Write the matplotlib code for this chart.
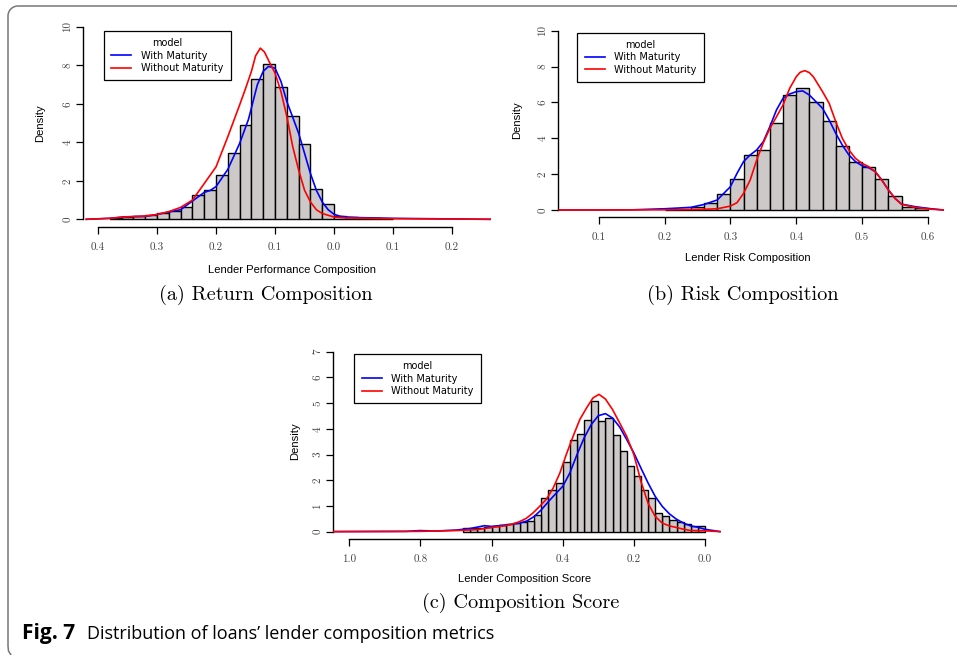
import numpy as np
import matplotlib
matplotlib.use("Agg")
import matplotlib.pyplot as plt
from matplotlib.lines import Line2D

W, H = 957, 655

###############################################################################
# data
###############################################################################
BIN_W = 0.02

# (a) Return composition
a_bin_start = -0.38
a_hist = [0.08, 0.10, 0.15, 0.24, 0.33, 0.42, 0.64, 1.25, 1.50, 2.28, 3.43, 4.92,
          7.32, 8.09, 6.89, 5.36, 3.90, 1.60, 0.80, 0.17, 0.12, 0.07, 0.05, 0.04]
a_with_x = [-0.42, -0.38, -0.355, -0.32, -0.30, -0.28, -0.26, -0.24, -0.22, -0.21, -0.20,
            -0.18, -0.16, -0.145, -0.13, -0.12, -0.111, -0.10, -0.09, -0.08, -0.07, -0.06,
            -0.05, -0.04, -0.03, -0.02, -0.01, 0.0, 0.01, 0.02, 0.04, 0.10, 0.265]
a_with_y = [0.0, 0.05, 0.13, 0.15, 0.25, 0.38, 0.50, 0.95, 1.40, 1.50, 1.70,
            2.60, 3.95, 5.20, 7.00, 7.70, 7.95, 7.86, 7.17, 6.12, 5.30, 4.47,
            3.43, 2.38, 1.51, 0.90, 0.50, 0.26, 0.16, 0.12, 0.09, 0.05, 0.0]
a_without_x = [-0.42, -0.38, -0.355, -0.32, -0.30, -0.28, -0.26, -0.24, -0.22, -0.20,
               -0.18, -0.16, -0.15, -0.14, -0.133, -0.125, -0.118, -0.11, -0.10, -0.09,
               -0.08, -0.07, -0.06, -0.05, -0.04, -0.03, -0.02, 0.0, 0.02, 0.10, 0.265]
a_without_y = [0.0, 0.05, 0.12, 0.17, 0.25, 0.40, 0.62, 1.00, 1.86, 2.73,
               4.30, 5.95, 6.80, 7.70, 8.50, 8.90, 8.70, 8.20, 7.60, 6.64,
               5.34, 3.77, 2.56, 1.51, 0.90, 0.50, 0.30, 0.12, 0.07, 0.03, 0.0]
a_ticks = [-0.4, -0.3, -0.2, -0.1, 0.0, 0.1, 0.2]
a_tick_labels = ["0.4", "0.3", "0.2", "0.1", "0.0", "0.1", "0.2"]

# (b) Risk composition
b_bin_start = 0.20
b_hist = [0.02, 0.06, 0.19, 0.37, 0.89, 1.75, 3.07, 3.35, 4.87, 6.43,
          6.78, 6.04, 4.94, 3.57, 2.66, 2.40, 1.71, 0.78, 0.19, 0.13]
b_with_x = [0.04, 0.15, 0.20, 0.24, 0.26, 0.28, 0.29, 0.30, 0.31, 0.32, 0.33, 0.34, 0.35,
            0.36, 0.37, 0.38, 0.39, 0.40, 0.41, 0.42, 0.43, 0.44, 0.45, 0.46, 0.47,
            0.48, 0.49, 0.50, 0.51, 0.52, 0.53, 0.54, 0.55, 0.56, 0.58, 0.60, 0.624]
b_with_y = [0.0, 0.01, 0.07, 0.15, 0.31, 0.56, 0.93, 1.30, 2.04, 2.70, 3.07, 3.35, 3.81,
            4.65, 5.58, 6.23, 6.47, 6.60, 6.64, 6.41, 6.04, 5.67, 5.02, 4.28, 3.62,
            3.07, 2.70, 2.47, 2.36, 2.14, 1.67, 1.12, 0.65, 0.33, 0.19, 0.09, 0.0]
b_without_x = [0.04, 0.20, 0.26, 0.28, 0.30, 0.31, 0.32, 0.33, 0.34, 0.35, 0.36, 0.37,
               0.38, 0.39, 0.40, 0.406, 0.413, 0.42, 0.426, 0.44, 0.45, 0.46, 0.47, 0.48,
               0.49, 0.50, 0.51, 0.52, 0.53, 0.54, 0.55, 0.56, 0.58, 0.60, 0.624]
b_without_y = [0.0, 0.01, 0.04, 0.07, 0.22, 0.41, 0.93, 1.67, 2.79, 3.75, 4.55, 5.20,
               5.86, 6.78, 7.43, 7.68, 7.77, 7.66, 7.43, 6.60, 5.95, 4.93, 4.00, 3.35,
               2.88, 2.60, 2.42, 2.14, 1.67, 1.12, 0.65, 0.32, 0.15, 0.06, 0.0]
b_ticks = [0.1, 0.2, 0.3, 0.4, 0.5, 0.6]
b_tick_labels = ["0.1", "0.2", "0.3", "0.4", "0.5", "0.6"]

# (c) Composition score (x axis runs from 1.0 down to 0.0)
c_bin_start = 0.0
c_hist = [0.22, 0.20, 0.28, 0.36, 0.45, 0.62, 0.74, 1.30, 1.60, 2.15, 2.56, 3.12,
          3.77, 4.42, 4.29, 5.07, 4.36, 3.81, 3.55, 2.70, 1.91, 1.60, 1.30, 0.65,
          0.42, 0.36, 0.33, 0.29, 0.24, 0.20, 0.16, 0.13, 0.13, 0.14]
c_with_x = [-0.042, 0.0, 0.02, 0.04, 0.06, 0.08, 0.10, 0.12, 0.14, 0.16, 0.18, 0.20,
            0.22, 0.24, 0.26, 0.28, 0.30, 0.32, 0.34, 0.36, 0.38, 0.40, 0.42, 0.44,
            0.46, 0.48, 0.50, 0.52, 0.54, 0.56, 0.60, 0.62, 0.66, 0.70, 0.76, 0.80,
            0.84, 0.90, 1.045]
c_with_y = [0.0, 0.09, 0.17, 0.22, 0.33, 0.48, 0.69, 0.98, 1.37, 1.89, 2.47, 3.06,
            3.58, 4.07, 4.42, 4.59, 4.51, 4.16, 3.64, 2.99, 2.28, 1.76, 1.47, 1.17,
            0.85, 0.59, 0.42, 0.33, 0.29, 0.26, 0.20, 0.23, 0.12, 0.06, 0.02, 0.04,
            0.01, 0.01, 0.0]
c_without_x = [-0.042, 0.0, 0.04, 0.06, 0.08, 0.10, 0.12, 0.14, 0.16, 0.18, 0.20, 0.22,
               0.24, 0.26, 0.28, 0.298, 0.315, 0.333, 0.352, 0.371, 0.39, 0.408, 0.427,
               0.446, 0.465, 0.484, 0.502, 0.521, 0.54, 0.56, 0.60, 0.64, 0.70, 0.80,
               0.90, 1.045]
c_without_y = [0.0, 0.03, 0.04, 0.09, 0.16, 0.22, 0.33, 0.59, 1.10, 1.95, 3.00, 3.70,
               4.23, 4.75, 5.16, 5.34, 5.20, 4.81, 4.36, 3.70, 3.00, 2.28, 1.69,
               1.26, 0.98, 0.72, 0.52, 0.39, 0.30, 0.23, 0.16, 0.08, 0.04, 0.01,
               0.0, 0.0]
c_ticks = [1.0, 0.8, 0.6, 0.4, 0.2, 0.0]
c_tick_labels = ["1.0", "0.8", "0.6", "0.4", "0.2", "0.0"]

###############################################################################
# style
###############################################################################
BAR_COLOR = "#cdc9c9"
BLUE = "#0000ff"
RED = "#ff0000"
TICK_FONT = "cmr10"
SANS = ["Liberation Sans", "DejaVu Sans"]


def fx(x):
    return x / W


def fy(y):
    return 1 - y / H


def make_axes(fig, left, right, top, bottom):
    return fig.add_axes([fx(left), fy(bottom), (right - left) / W, (bottom - top) / H])


def draw_panel(ax, bin_start, hist, wx, wy, ox, oy, xlim, ylim, xticks, xlabels,
               yticks, xbounds, ybounds):
    lefts = [round(bin_start + BIN_W * i, 4) for i in range(len(hist))]
    ax.bar(lefts, hist, width=BIN_W, align="edge", color=BAR_COLOR,
           edgecolor="black", linewidth=1.0, zorder=1)
    ax.plot(wx, wy, color=BLUE, lw=1.2, zorder=2)
    ax.plot(ox, oy, color=RED, lw=1.2, zorder=3)
    ax.set_xlim(*xlim)
    ax.set_ylim(*ylim)
    for s in ["top", "right"]:
        ax.spines[s].set_visible(False)
    ax.spines["left"].set_bounds(*ybounds)
    ax.spines["bottom"].set_bounds(*xbounds)
    for s in ["left", "bottom"]:
        ax.spines[s].set_linewidth(1.0)
    ax.set_xticks(xticks)
    ax.set_xticklabels(xlabels, fontfamily=TICK_FONT, fontsize=8, color="#444444")
    ax.set_yticks(yticks)
    ax.set_yticklabels([str(v) for v in yticks], fontfamily=TICK_FONT, fontsize=8,
                       color="#444444", rotation=90, va="center")
    ax.tick_params(axis="x", length=5, width=0.9, pad=6)
    ax.tick_params(axis="y", length=5, width=0.9, pad=3)
    ax.patch.set_alpha(0)


def add_legend(ax, fig, x, y):
    handles = [Line2D([], [], color=BLUE, lw=1.2), Line2D([], [], color=RED, lw=1.2)]
    leg = ax.legend(handles, ["With Maturity", "Without Maturity"], title="model",
                    loc="upper left", bbox_to_anchor=(fx(x), fy(y)),
                    bbox_transform=fig.transFigure, frameon=True, fancybox=False,
                    edgecolor="black", framealpha=1,
                    prop={"family": "DejaVu Sans", "size": 7},
                    title_fontproperties={"family": "DejaVu Sans", "size": 7},
                    handlelength=2.05, handletextpad=1.0, borderpad=0.75,
                    labelspacing=0.25, borderaxespad=0)
    leg.get_frame().set_linewidth(0.9)
    return leg


###############################################################################
# figure
###############################################################################
fig = plt.figure(figsize=(W / 100, H / 100), dpi=100)
LABEL_SIZE = 8.1
CAP_SIZE = 14.6

# (a)
ax_a = make_axes(fig, 83.3, 491, 19.3, 227)
draw_panel(ax_a, a_bin_start, a_hist, a_with_x, a_with_y, a_without_x, a_without_y,
           (-0.425, 0.266), (-0.4, 10.4), a_ticks, a_tick_labels,
           [0, 2, 4, 6, 8, 10], (-0.4, 0.2), (0, 10))
add_legend(ax_a, fig, 104, 31)
fig.text(fx(40), fy(123), "Density", rotation=90, ha="center", va="center",
         family=SANS, fontsize=LABEL_SIZE)
fig.text(fx(292), fy(270), "Lender Performance Composition", ha="center", va="center",
         family=SANS, fontsize=LABEL_SIZE)
fig.text(fx(266), fy(295), "(a) Return Composition", ha="center", va="center",
         family="cmr10", fontsize=CAP_SIZE)

# (b)
ax_b = make_axes(fig, 558.3, 943.5, 23.5, 217.2)
draw_panel(ax_b, b_bin_start, b_hist, b_with_x, b_with_y, b_without_x, b_without_y,
           (0.0386, 0.6237), (-0.4, 10.4), b_ticks, b_tick_labels,
           [0, 2, 4, 6, 8, 10], (0.1, 0.6), (0, 10))
add_legend(ax_b, fig, 577.3, 32.7)
fig.text(fx(517), fy(120), "Density", rotation=90, ha="center", va="center",
         family=SANS, fontsize=LABEL_SIZE)
fig.text(fx(748), fy(258), "Lender Risk Composition", ha="center", va="center",
         family=SANS, fontsize=LABEL_SIZE)
fig.text(fx(743), fy(295), "(b) Risk Composition", ha="center", va="center",
         family="cmr10", fontsize=CAP_SIZE)

# (c)
ax_c = make_axes(fig, 333.3, 720.5, 344.5, 538.8)
draw_panel(ax_c, c_bin_start, c_hist, c_with_x, c_with_y, c_without_x, c_without_y,
           (1.045, -0.0436), (-0.28, 7.28), c_ticks, c_tick_labels,
           [0, 1, 2, 3, 4, 5, 6, 7], (0.0, 1.0), (0, 7))
add_legend(ax_c, fig, 354.3, 354)
fig.text(fx(295), fy(441), "Density", rotation=90, ha="center", va="center",
         family=SANS, fontsize=LABEL_SIZE)
fig.text(fx(525), fy(579), "Lender Composition Score", ha="center", va="center",
         family=SANS, fontsize=LABEL_SIZE)
fig.text(fx(521), fy(603), "(c) Composition Score", ha="center", va="center",
         family="cmr10", fontsize=CAP_SIZE)

# figure caption
cap_font = ["Open Sans", "DejaVu Sans"]
fig.text(fx(22), fy(634), "Fig. 7", ha="left", va="center", family=cap_font,
         fontweight="bold", fontsize=15)
fig.text(fx(87), fy(634), "Distribution of loans\u2019 lender composition metrics",
         ha="left", va="center", family=cap_font, fontsize=13)

# frame round the figure (open on the right and bottom)
r = 10
th = np.linspace(np.pi / 2, np.pi, 20)
arc_x = 8 + r + r * np.cos(th)
arc_y = 6 + r - r * np.sin(th)
frame_x = np.concatenate([[W], arc_x, [8, 8.5, 11]])
frame_y = np.concatenate([[6], arc_y, [646, 651, 655]])
fig.add_artist(Line2D(fx(frame_x), fy(frame_y), transform=fig.transFigure,
                      color="#777777", lw=1.1))

fig.savefig("out.png", dpi=100)
